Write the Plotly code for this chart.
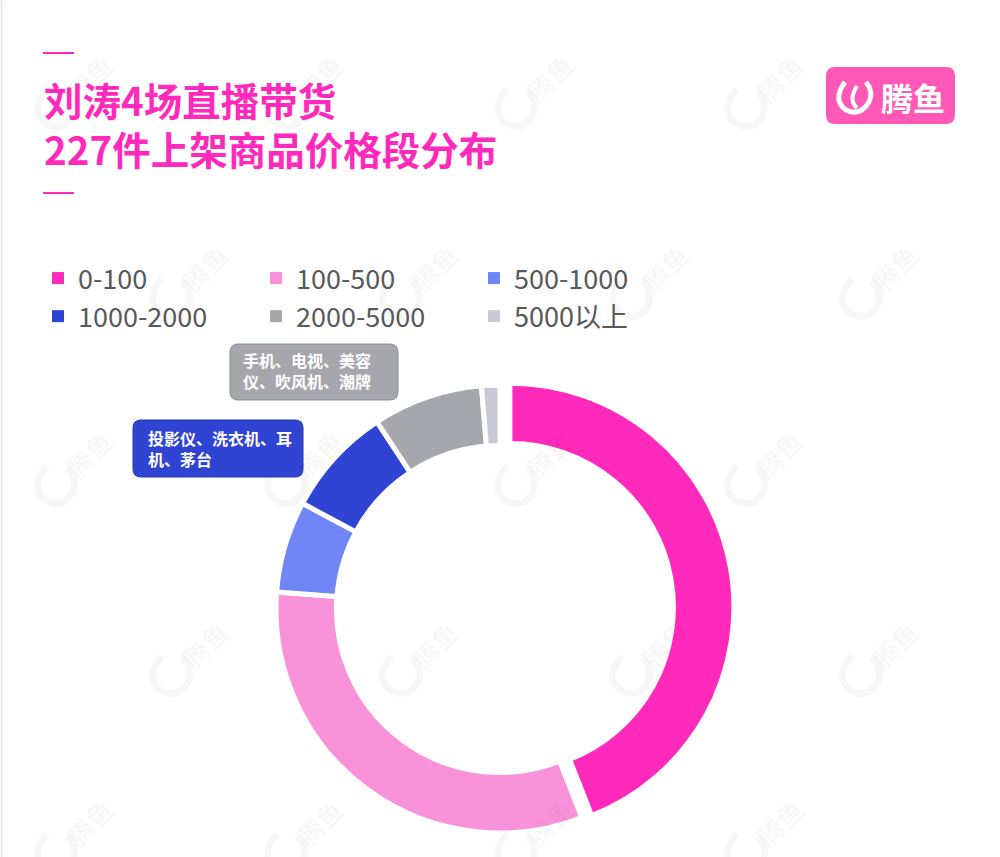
import plotly.graph_objects as go

# ---------------- data ----------------
categories = ["0-100", "100-500", "500-1000", "1000-2000", "2000-5000", "5000以上"]
counts = [100, 73, 15, 18, 18, 3]
colors = ["#FF2ABB", "#FA92DA", "#7086F6", "#3044D4", "#A6A7AC", "#C8C9D4"]
pulls = [0.045, 0, 0, 0, 0, 0]

title_lines = ["刘涛4场直播带货", "227件上架商品价格段分布"]
note_gray = ["手机、电视、美容", "仪、吹风机、潮牌"]
note_blue = ["投影仪、洗衣机、耳", "机、茅台"]
brand = "腾鱼"

W, H = 1000, 857
ML, MR = 0, 250
PW = W - ML - MR  # plot-area width in px


def px(x):
    return (x - ML) / PW


def py(y):
    return 1 - y / H


FONT = "Noto Sans CJK SC"

fig = go.Figure()

# donut geometry (pixels)
cx, cy, R = 500, 609, 224
half = R * (1 + max(pulls))
fig.add_trace(go.Pie(
    labels=categories,
    values=counts,
    marker=dict(colors=colors, line=dict(color="white", width=5)),
    pull=pulls,
    hole=0.73,
    sort=False,
    direction="clockwise",
    rotation=0,
    textinfo="none",
    hoverinfo="label+value",
    showlegend=False,
    domain=dict(x=[px(cx - 250), px(cx + 250)], y=[py(cy + half), py(cy - half)]),
))
# legend-only twin (same data, no slice borders so the legend squares are full size)
fig.add_trace(go.Pie(
    labels=categories,
    values=counts,
    marker=dict(colors=colors, line=dict(width=0)),
    sort=False,
    direction="clockwise",
    textinfo="none",
    hoverinfo="skip",
    showlegend=True,
    domain=dict(x=[0, 0.0005], y=[0.9995, 1]),
))

shapes = []
annotations = []


def rrect(x0, y0, x1, y1, r):
    rx, ry = r / PW, r / H
    X0, X1 = px(x0), px(x1)
    Y0, Y1 = py(y0), py(y1)  # Y0 top (larger), Y1 bottom
    return (f"M {X0+rx},{Y0} L {X1-rx},{Y0} Q {X1},{Y0} {X1},{Y0-ry} "
            f"L {X1},{Y1+ry} Q {X1},{Y1} {X1-rx},{Y1} L {X0+rx},{Y1} "
            f"Q {X0},{Y1} {X0},{Y1+ry} L {X0},{Y0-ry} Q {X0},{Y0} {X0+rx},{Y0} Z")


def ppath(points_cmds):
    out = []
    for tok in points_cmds:
        if isinstance(tok, str):
            out.append(tok)
        else:
            out.append(f"{px(tok[0])},{py(tok[1])}")
    return " ".join(out)


def text(x, y, s, size, color, xanchor="center", yanchor="middle", angle=0, bold=False, align="left"):
    annotations.append(dict(x=px(x), y=py(y), xref="paper", yref="paper",
                            xanchor=xanchor, yanchor=yanchor, textangle=angle,
                            text=("<b>" + s + "</b>") if bold else s, showarrow=False, align=align,
                            font=dict(family=FONT, size=size, color=color)))


# left border line
shapes.append(dict(type="line", xref="paper", yref="paper", x0=px(1.5), x1=px(1.5),
                   y0=0, y1=1, line=dict(color="#E3E3E3", width=1.5), layer="below"))

# watermarks
WM = "rgba(0,0,0,0.03)"
wm_rows = [85, 275, 462, 652, 830]
for i, yy in enumerate(wm_rows):
    start = 75 if i % 2 == 0 else 190
    xx = start
    while xx < W - 20:
        shapes.append(dict(type="path", xref="paper", yref="paper",
                           path=ppath(["M", (xx - 28, yy + 4), "Q", (xx - 46, yy + 24), (xx - 30, yy + 38),
                                       "Q", (xx - 12, yy + 48), (xx - 2, yy + 30),
                                       "Q", (xx + 3, yy + 16), (xx - 8, yy + 6)]),
                           line=dict(color=WM, width=7), layer="above"))
        text(xx + 14, yy - 8, brand, 26, WM, angle=-45, bold=True)
        xx += 230

# title decorations
for yy in (53, 193):
    shapes.append(dict(type="line", xref="paper", yref="paper", x0=px(43), x1=px(74),
                       y0=py(yy), y1=py(yy), line=dict(color="#FF2ABB", width=2)))

text(42, 99, title_lines[0], 38.5, "#FF2ABB", xanchor="left", bold=True)
text(42, 148, title_lines[1], 38.5, "#FF2ABB", xanchor="left", bold=True)

# logo
shapes.append(dict(type="path", xref="paper", yref="paper", path=rrect(826, 67, 955, 124, 9),
                   fillcolor="#FF58B7", line=dict(width=0)))
shapes.append(dict(type="path", xref="paper", yref="paper",
                   path=ppath(["M", (845, 82), "Q", (832, 100), (846, 110), "Q", (860, 117), (869, 102),
                               "Q", (874, 92), (866, 82)]),
                   line=dict(color="white", width=5)))
shapes.append(dict(type="path", xref="paper", yref="paper",
                   path=ppath(["M", (857, 86), "Q", (848, 100), (857, 108)]),
                   line=dict(color="white", width=4)))
text(913, 97, brand, 32, "white", bold=True)

# note boxes
shapes.append(dict(type="path", xref="paper", yref="paper", path=rrect(230, 344, 398, 400, 8),
                   fillcolor="#A6A7AC", line=dict(color="#8E8F94", width=1)))
text(241, 371, "<br>".join(note_gray), 16, "white", xanchor="left", bold=True)
shapes.append(dict(type="path", xref="paper", yref="paper", path=rrect(133, 420, 303, 477, 8),
                   fillcolor="#3044D4", line=dict(color="#2434B0", width=1)))
text(146, 448, "<br>".join(note_blue), 16, "white", xanchor="left", bold=True)

fig.update_layout(
    width=W, height=H,
    margin=dict(l=ML, r=MR, t=0, b=0),
    paper_bgcolor="white", plot_bgcolor="white",
    shapes=shapes, annotations=annotations,
    showlegend=True,
    legend=dict(orientation="h", x=px(38), y=py(254), xanchor="left", yanchor="top",
                entrywidth=173, entrywidthmode="pixels", traceorder="normal",
                font=dict(family=FONT, size=27, color="#595959"),
                bgcolor="rgba(0,0,0,0)", borderwidth=0),
)

fig.write_html("out.html")
